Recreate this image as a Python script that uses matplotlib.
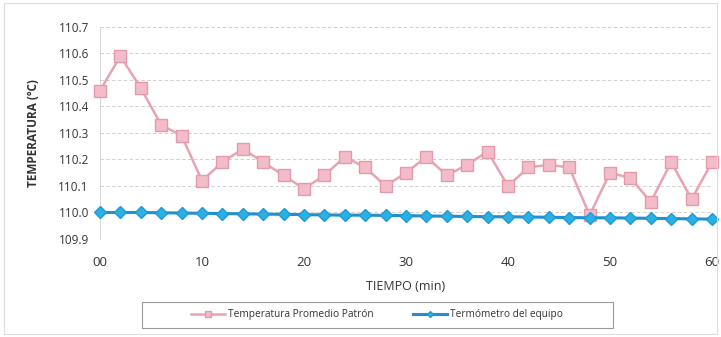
import matplotlib.pyplot as plt
from matplotlib.patches import Rectangle

tiempo = [0, 2, 4, 6, 8, 10, 12, 14, 16, 18, 20, 22, 24, 26, 28, 30,
          32, 34, 36, 38, 40, 42, 44, 46, 48, 50, 52, 54, 56, 58, 60]

patron = [110.46, 110.59, 110.47, 110.33, 110.29, 110.12, 110.19, 110.24,
          110.19, 110.14, 110.09, 110.14, 110.21, 110.17, 110.10, 110.15,
          110.21, 110.14, 110.18, 110.23, 110.10, 110.17, 110.18, 110.17,
          109.99, 110.15, 110.13, 110.04, 110.19, 110.05, 110.19]

equipo = [110.00, 110.00, 110.00, 109.999, 109.998, 109.997, 109.996, 109.995,
          109.994, 109.993, 109.992, 109.991, 109.990, 109.990, 109.989, 109.988,
          109.987, 109.986, 109.985, 109.984, 109.984, 109.983, 109.982, 109.981,
          109.980, 109.980, 109.979, 109.978, 109.977, 109.976, 109.975]

yticks = [109.9, 110.0, 110.1, 110.2, 110.3, 110.4, 110.5, 110.6, 110.7]
xticks = [0, 10, 20, 30, 40, 50, 60]
xticklabels = ['00', '10', '20', '30', '40', '50', '60']

plt.rcParams['font.family'] = ['Open Sans', 'DejaVu Sans']

W, H = 721, 337
fig = plt.figure(figsize=(W/100, H/100), dpi=100)
ax = fig.add_axes([100/W, 1 - 239/H, 612/W, 212/H])

ax.plot(tiempo, patron, color='#e8a3b2', lw=1.8, marker='s', ms=9,
        mfc='#f2bcc8', mec='#e49aab', mew=1, clip_on=False, zorder=3,
        label='Temperatura Promedio Patrón')
ax.plot(tiempo, equipo, color='#1f8fcf', lw=2.2, marker='D', ms=6,
        mfc='#2bb0e3', mec='#1f9ad6', clip_on=False, zorder=4,
        label='Termómetro del equipo')

ax.set_xlim(0, 60)
ax.set_ylim(109.9, 110.7)
ax.set_yticks(yticks)
ax.set_yticklabels([f'{v:.1f}' for v in yticks])
ax.set_xticks(xticks)
ax.set_xticklabels(xticklabels)
ax.grid(axis='y', color='#c8c8c8', ls=(0, (4, 3)), lw=0.6)
ax.set_axisbelow(True)
for s in ['top', 'right', 'bottom']:
    ax.spines[s].set_visible(False)
ax.spines['left'].set_color('#d0d0d0')
ax.spines['left'].set_linewidth(0.6)
ax.tick_params(length=0, labelsize=8.5, colors='#333333', pad=8)
ax.tick_params(axis='x', labelsize=9.5, pad=12)
ax.set_ylabel('TEMPERATURA (ºC)', fontsize=8.5, fontweight='bold',
              color='#333333', labelpad=13)
ax.set_xlabel('TIEMPO (min)', fontsize=9, color='#333333', labelpad=8)

# legend box drawn by hand so the padding matches the reference
leg = fig.legend(loc='center', bbox_to_anchor=(377/W, 1 - 315/H), ncol=2,
                 fontsize=7.3, frameon=False, handlelength=3.4,
                 handletextpad=0.3, columnspacing=3.8, markerscale=0.5)
for t in leg.get_texts():
    t.set_color('#333333')

fig.patches.append(Rectangle((142/W, 1 - 328/H), 471/W, 26/H, transform=fig.transFigure,
                             fill=False, ec='#999999', lw=0.8))
fig.patches.append(Rectangle((0.006, 0.01), 0.988, 0.98, transform=fig.transFigure,
                             fill=False, ec='#dddddd', lw=0.8))

fig.savefig('out.png', dpi=100)
